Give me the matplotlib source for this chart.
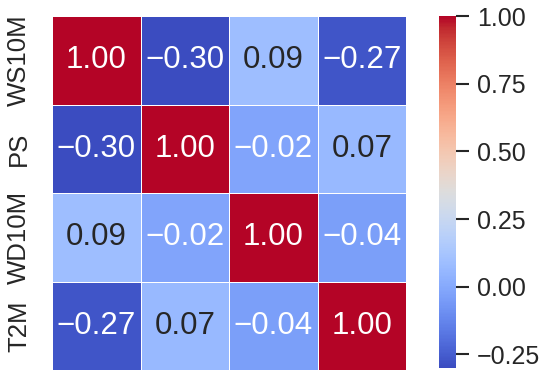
import matplotlib
matplotlib.use("Agg")
import matplotlib.pyplot as plt
import seaborn as sns
import numpy as np
import pandas as pd

labels = ["WS10M", "PS", "WD10M", "T2M"]
row_ws10m = [1.00, -0.30, 0.09, -0.27]
row_ps = [-0.30, 1.00, -0.02, 0.07]
row_wd10m = [0.09, -0.02, 1.00, -0.04]
row_t2m = [-0.27, 0.07, -0.04, 1.00]
cbar_ticks = [-0.25, 0.00, 0.25, 0.50, 0.75, 1.00]

corr = pd.DataFrame([row_ws10m, row_ps, row_wd10m, row_t2m], index=labels, columns=labels)
annot_text = np.array([[f"{v:.2f}".replace("-", "\u2212") for v in row] for row in corr.values])

sns.set_theme(style="ticks")
plt.rcParams['font.family'] = ['Liberation Sans', 'DejaVu Sans']

fig = plt.figure(figsize=(5.5, 3.76), dpi=100)
ax = fig.add_axes([52/550, 1-370/376, (406-52)/550, (370-16)/376])
cax = fig.add_axes([439/550, 1-368/376, 17/550, (368-16)/376])

sns.heatmap(corr, ax=ax, cbar_ax=cax, cmap="coolwarm", annot=annot_text, fmt="",
            linewidths=0.7, linecolor="white",
            annot_kws={"fontsize": 22.5},
            cbar_kws={"ticks": cbar_ticks})
ax.set_xticks([])
ax.set_yticklabels(labels, rotation=90, va="center", fontsize=18.5)
ax.tick_params(axis='y', length=0, pad=15)
cax.tick_params(labelsize=18, length=9, width=1.5, color="#262626", pad=6)
for sp in cax.spines.values():
    sp.set_visible(False)
fig.savefig("out.png", dpi=100)
